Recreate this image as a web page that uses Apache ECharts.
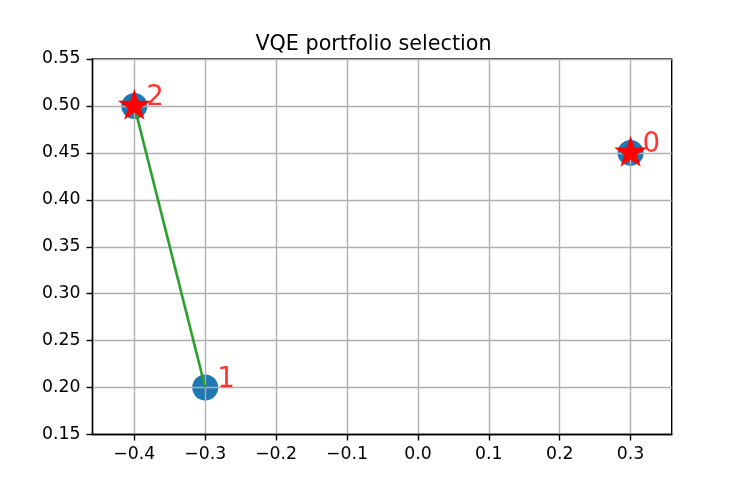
<!DOCTYPE html>
<html>
<head>
    <meta charset="utf-8">
    <title>VQE portfolio selection</title>
    <script type="text/javascript" src="https://cdn.jsdelivr.net/npm/echarts@6/dist/echarts.min.js"></script>
</head>
<body style="margin:0;">
    <div id="main" style="width:747px;height:498px;"></div>
    <script type="text/javascript">
        // assets, positions and selection
        var assetNames = ['0', '1', '2'];
        var assetX = [0.3, -0.3, -0.4];
        var assetY = [0.45, 0.2, 0.5];
        var selected = [0, 2];          // assets marked with a star
        var edges = [[2, 1]];           // green connection
        var xTicks = [-0.4, -0.3, -0.2, -0.1, 0.0, 0.1, 0.2, 0.3];

        var font = 'DejaVu Sans';
        var starPath = 'path://M0,-100 L22.45,-30.9 L95.1,-30.9 L36.33,11.8 L58.8,80.9 L0,38.2 L-58.8,80.9 L-36.33,11.8 L-95.1,-30.9 L-22.45,-30.9 Z';

        var points = [];
        for (var i = 0; i < assetNames.length; i++) {
            points.push({ name: assetNames[i], value: [assetX[i], assetY[i]] });
        }
        var stars = [];
        for (var i = 0; i < selected.length; i++) {
            stars.push([assetX[selected[i]], assetY[selected[i]]]);
        }
        var edgeSeries = [];
        for (var i = 0; i < edges.length; i++) {
            var a = edges[i][0], b = edges[i][1];
            edgeSeries.push({
                type: 'line',
                z: 3,
                symbol: 'none',
                silent: true,
                lineStyle: { color: '#2ca02c', width: 2.6 },
                data: [[assetX[a], assetY[a]], [assetX[b], assetY[b]]]
            });
        }

        function fmtMinus(v, d) {
            var s = Math.abs(v).toFixed(d);
            return (v < -1e-9 ? '\u2212' : '') + s;
        }

        var myChart = echarts.init(document.getElementById('main'));
        var option = {
            animation: false,
            title: {
                text: 'VQE portfolio selection',
                left: 'center',
                top: 29,
                textStyle: { fontFamily: font, fontSize: 20.7, fontWeight: 'normal', color: '#000' }
            },
            grid: {
                left: 92.5, right: 75.3, top: 59, bottom: 63.5,
                show: true, borderColor: '#000', borderWidth: 1.4
            },
            xAxis: {
                type: 'value',
                z: 2,
                min: -0.459,
                max: 0.358,
                axisLine: { onZero: false, lineStyle: { color: '#000', width: 1.4 } },
                axisTick: { show: true, length: 6, lineStyle: { color: '#000', width: 1.4 }, customValues: xTicks },
                axisLabel: {
                    customValues: xTicks,
                    margin: 12, color: '#000', fontFamily: font, fontSize: 17.3,
                    formatter: function (v) { return fmtMinus(v, 1); }
                },
                splitLine: { show: true, lineStyle: { color: '#b0b0b0', width: 1.4 } }
            },
            yAxis: {
                type: 'value',
                z: 2,
                min: 0.15,
                max: 0.55,
                interval: 0.05,
                axisLine: { show: true, onZero: false, lineStyle: { color: '#000', width: 1.4 } },
                axisTick: { show: true, length: 6, lineStyle: { color: '#000', width: 1.4 } },
                axisLabel: {
                    margin: 12, color: '#000', fontFamily: font, fontSize: 17.3,
                    formatter: function (v) { return fmtMinus(v, 2); }
                },
                splitLine: { show: true, lineStyle: { color: '#b0b0b0', width: 1.4 } }
            },
            series: [
                {
                    type: 'scatter',
                    z: 1,
                    symbol: 'circle',
                    symbolSize: 26,
                    itemStyle: { color: '#1f77b4', opacity: 1 },
                    data: points
                }
            ].concat(edgeSeries).concat([
                {
                    type: 'scatter',
                    z: 3,
                    symbol: starPath,
                    symbolSize: [33, 31],
                    symbolOffset: [0, -1.6],
                    itemStyle: { color: '#ff0000', opacity: 1 },
                    data: stars
                },
                {
                    type: 'scatter',
                    z: 4,
                    symbol: 'circle',
                    symbolSize: 26,
                    itemStyle: { color: 'rgba(0,0,0,0)' },
                    label: {
                        show: true,
                        position: 'right',
                        distance: -1,
                        offset: [0, -8],
                        formatter: '{b}',
                        color: '#ff0000',
                        fontFamily: font,
                        fontSize: 27.7
                    },
                    data: points
                }
            ])
        };
        myChart.setOption(option);
    </script>
</body>
</html>
